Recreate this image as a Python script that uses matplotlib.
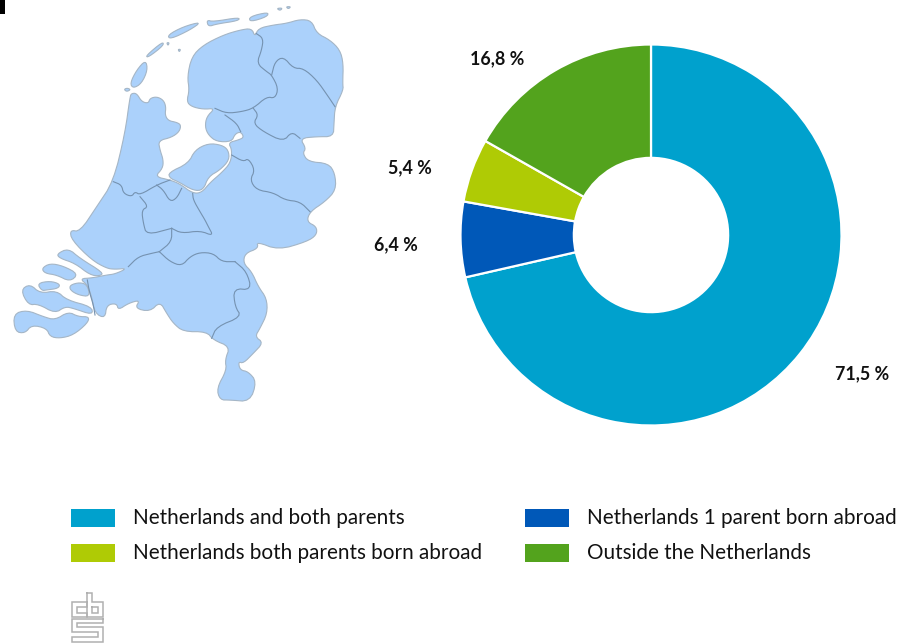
import matplotlib
matplotlib.use("Agg")
import matplotlib.pyplot as plt
import numpy as np
from matplotlib.patches import Polygon, Rectangle

# share of population per country of birth group
categories = [
    "Netherlands and both parents",
    "Netherlands 1 parent born abroad",
    "Netherlands both parents born abroad",
    "Outside the Netherlands",
]
values = [71.5, 6.4, 5.4, 16.8]
value_labels = ["71,5 %", "6,4 %", "5,4 %", "16,8 %"]
colors = ["#00a1cd", "#0058b8", "#afcb05", "#53a31d"]

MAP_FILL = "#abd1fb"
MAP_LINE = "#7592b0"
FONT = "Lato"

W, H = 913, 643


# map shapes are traced at 3x the picture's pixels
mainland = [
    (395, 280), (410, 280), (425, 305), (445, 310), (450, 295), (470, 290), (490, 300), (498, 320),
    (495, 345), (505, 362), (530, 367), (543, 375), (538, 395), (515, 412), (475, 422), (480, 450),
    (490, 480), (488, 505), (465, 530), (510, 540), (540, 552), (578, 580), (605, 578), (630, 548),
    (665, 518), (692, 488), (696, 450), (685, 428), (715, 420), (732, 412), (722, 395), (705, 402),
    (695, 425), (650, 425), (625, 405), (615, 380), (620, 350), (645, 325), (610, 328), (575, 320),
    (560, 305), (568, 270), (562, 230), (575, 170), (610, 135), (670, 105), (720, 90), (755, 85),
    (765, 110), (775, 85), (820, 75), (860, 70), (900, 58), (935, 62), (950, 100), (990, 120),
    (1020, 150), (1030, 190), (1028, 250), (1030, 270), (1005, 320), (1002, 370), (1000, 410),
    (950, 410), (900, 415), (918, 445), (908, 460), (925, 485), (985, 490), (1005, 520), (1008, 570),
    (975, 605), (930, 635), (920, 665), (950, 680), (950, 705), (920, 725), (835, 750), (770, 725),
    (775, 745), (735, 760), (730, 790), (755, 815), (775, 860), (800, 895), (802, 940), (780, 985),
    (765, 1010), (790, 1028), (760, 1060), (730, 1090), (715, 1085), (720, 1110), (745, 1115),
    (770, 1145), (750, 1205), (690, 1200), (660, 1200), (650, 1165), (680, 1110), (675, 1080),
    (690, 1040), (640, 1020), (620, 995), (550, 995), (520, 970), (500, 940), (480, 905), (450, 935),
    (405, 925), (420, 900), (385, 910), (355, 930), (350, 910), (320, 915), (315, 955), (285, 940),
    (275, 890), (262, 855), (240, 836), (275, 834), (320, 825), (345, 822), (382, 805), (345, 808),
    (320, 805), (275, 780), (215, 720), (210, 690), (240, 695), (290, 620), (340, 545), (375, 400),
    (390, 290),
]
islands = [
    [(437, 180), (443, 210), (425, 250), (400, 265), (390, 250), (410, 210)],
    [(372, 268), (382, 264), (392, 269), (380, 275)],
    [(437, 168), (488, 125), (491, 136), (445, 172)],
    [(503, 105), (550, 80), (605, 65), (570, 90), (510, 118)],
    [(620, 60), (640, 65), (718, 52), (716, 62), (650, 72), (625, 80)],
    [(748, 50), (805, 36), (802, 50), (750, 66)],
    [(830, 25), (848, 24), (840, 32)],
    [(858, 20), (873, 20), (865, 27)],
    [(500, 128), (508, 128), (504, 137)],
    [(534, 148), (542, 148), (538, 156)],
    # Flevoland
    [(505, 518), (565, 490), (585, 450), (625, 430), (665, 435), (685, 450), (688, 480), (660, 510),
     (625, 530), (610, 570), (580, 572), (535, 545), (510, 535)],
    # Zeeland
    [(170, 762), (205, 745), (240, 775), (310, 818), (300, 828), (270, 825), (225, 790), (180, 775)],
    [(125, 805), (150, 790), (190, 798), (235, 822), (210, 845), (170, 825), (135, 820)],
    [(112, 850), (150, 843), (180, 852), (175, 865), (140, 870), (125, 872)],
    [(210, 855), (240, 847), (262, 855), (270, 890), (235, 885), (210, 870)],
    [(62, 870), (90, 852), (120, 880), (170, 872), (200, 900), (275, 920), (278, 945), (220, 925),
     (195, 920), (165, 940), (115, 912), (85, 915)],
    [(40, 942), (80, 930), (130, 950), (165, 960), (205, 935), (235, 950), (268, 950), (262, 970),
     (220, 1005), (180, 1015), (150, 1010), (140, 985), (95, 975), (75, 1000), (45, 995)],
]
borders = [
    [(768, 100), (790, 115), (785, 150), (770, 190), (800, 215), (815, 225), (835, 265), (825, 295),
     (800, 290), (760, 325), (725, 335), (680, 340), (645, 325)],
    [(815, 225), (825, 185), (850, 170), (880, 205), (910, 205), (950, 240), (985, 290), (1005, 320)],
    [(760, 325), (775, 345), (760, 370), (790, 395), (850, 425), (875, 395), (900, 415)],
    [(675, 345), (710, 370), (722, 395)],
    [(695, 465), (730, 485), (745, 475), (765, 510), (750, 540), (770, 570), (820, 578), (855, 600),
     (900, 605), (930, 635)],
    [(340, 545), (365, 555), (370, 580), (395, 590), (405, 575), (420, 585), (470, 555), (510, 540)],
    [(470, 555), (490, 570), (510, 605), (530, 595), (545, 565)],
    [(578, 580), (580, 600), (600, 635), (615, 660), (625, 680), (640, 708), (600, 692), (545, 700),
     (515, 685)],
    [(420, 590), (445, 620), (425, 630), (430, 670), (440, 705), (515, 685)],
    [(515, 685), (515, 725), (478, 755)],
    [(385, 800), (415, 770), (455, 760), (478, 755)],
    [(478, 755), (510, 785), (545, 798), (570, 770), (600, 757), (640, 760), (665, 785), (705, 785)],
    [(705, 785), (740, 815), (755, 870), (700, 865), (705, 920), (725, 950), (650, 980), (635, 1015)],
    [(262, 840), (268, 875), (280, 915), (285, 945)],
]

# cbs logo, same 3x tracing relative to (50, 500)
logo_lines = [
    [(110, 305), (65, 305), (65, 350), (110, 350), (110, 338), (80, 338), (80, 320), (110, 320), (110, 305)],
    [(112, 280), (112, 350), (158, 350), (158, 305), (125, 305), (125, 280), (112, 280)],
    [(125, 320), (145, 320), (145, 338), (125, 338), (125, 320)],
    [(158, 358), (65, 358), (65, 395), (145, 395), (145, 410), (65, 410), (65, 425), (158, 425),
     (158, 382), (80, 382), (80, 370), (158, 370), (158, 358)],
]


def smooth(points, closed=True, rounds=2):
    # chaikin corner cutting so the traced outline looks less angular
    pts = np.array(points, dtype=float)
    for _ in range(rounds):
        if closed:
            nxt = np.roll(pts, -1, axis=0)
            pts = np.column_stack([0.75 * pts + 0.25 * nxt, 0.25 * pts + 0.75 * nxt]).reshape(-1, 2)
        else:
            a, b = pts[:-1], pts[1:]
            mid = np.column_stack([0.75 * a + 0.25 * b, 0.25 * a + 0.75 * b]).reshape(-1, 2)
            pts = np.vstack([pts[0], mid, pts[-1]])
    return pts / 3


fig = plt.figure(figsize=(W / 100, H / 100), dpi=100)

# overlay in picture pixels for the map, legend and labels
ax = fig.add_axes([0, 0, 1, 1])
ax.set_xlim(0, W)
ax.set_ylim(H, 0)
ax.axis("off")

ax.add_patch(Rectangle((0, 0), 5, 14, color="black", lw=0))

for shape in [mainland] + islands:
    ax.add_patch(Polygon(smooth(shape), closed=True, facecolor=MAP_FILL, edgecolor="#a5b6c6", lw=0.8))
for line in borders:
    pts = smooth(line, closed=False)
    ax.plot(pts[:, 0], pts[:, 1], color=MAP_LINE, lw=0.8)

# donut
cx, cy, r = 651, 235, 190.5
pad = 1.02
ax_pie = fig.add_axes([(cx - r * pad) / W, 1 - (cy + r * pad) / H, 2 * r * pad / W, 2 * r * pad / H])
ax_pie.pie(
    values,
    colors=colors,
    startangle=90,
    counterclock=False,
    radius=1,
    wedgeprops=dict(width=0.595, edgecolor="white", linewidth=1.6),
)
ax_pie.set_xlim(-pad, pad)
ax_pie.set_ylim(-pad, pad)

label_x = [862, 396, 410, 497]
label_y = [373.5, 244.5, 167.5, 58.5]
for txt, x, y in zip(value_labels, label_x, label_y):
    ax.text(x, y, txt, ha="center", va="center", fontsize=12.9, fontweight="bold", family=FONT, color="#111111")

# legend
legend_x = [71, 525, 71, 525]
legend_y = [518, 518, 553, 553]
legend_order = [0, 1, 2, 3]
for i, x, y in zip(legend_order, legend_x, legend_y):
    ax.add_patch(Rectangle((x, y - 9), 44, 18, color=colors[i], lw=0))
    ax.text(x + 62, y, categories[i], ha="left", va="center", fontsize=14.9, family=FONT, color="#111111")

for line in logo_lines:
    pts = np.array(line, dtype=float) / 3 + [50, 500]
    ax.plot(pts[:, 0], pts[:, 1], color="#b0b0b0", lw=1.1, solid_joinstyle="miter")

fig.savefig("out.png", dpi=100, facecolor="white")
